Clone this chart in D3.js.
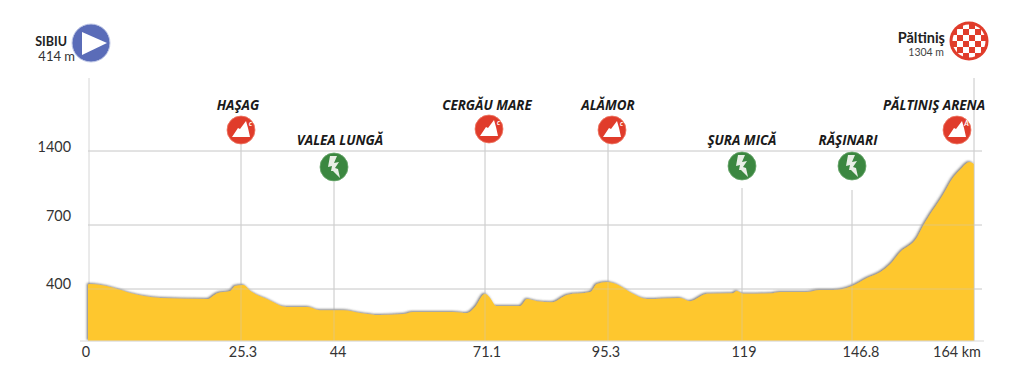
<!DOCTYPE html>
<html>
<head>
<meta charset="utf-8">
<script src="https://cdn.jsdelivr.net/npm/d3@7"></script>
<style>
  html, body { margin: 0; padding: 0; background: #fff; overflow: hidden; }
  text { font-family: Lato, sans-serif; }
  .place { font-family: "Open Sans", sans-serif; font-weight: 700; font-style: italic; font-size: 13.4px; fill: #1a1a1a; text-anchor: middle; }
  .tick { font-size: 14.4px; fill: #333; }
</style>
</head>
<body>
<svg id="chart"></svg>
<script>
const width = 1024;
const height = 390;

// profile
const profileKm = [0, 0.2, 2.1, 4.3, 7.1, 9.2, 12, 19.7, 21.4, 23.5, 24.3, 25.7, 27.5, 30.5, 34.5, 38.7, 41.1, 45.6, 48.7, 52.2, 56.4, 58.2, 65.4, 67.9, 69.3, 71.1, 72.1, 73.3, 78, 79.4, 81.3, 84.3, 87.2, 91.8, 93.1, 95.1, 97.1, 99.7, 102.2, 108, 109.8, 112.8, 117.4, 118.1, 119.3, 126.8, 128.6, 135.4, 138.7, 142, 146.8, 148.9, 150.8, 152.2, 153.6, 156, 156.8, 159.6, 161, 162, 163.4, 164];
const profileEle = [420, 423, 419, 405, 388, 380, 374, 371, 388, 394, 414, 419, 391, 371, 348, 348, 339, 339, 331, 325, 328, 334, 334, 331, 348, 386, 374, 351, 351, 371, 365, 362, 383, 391, 423, 433, 419, 386, 371, 374, 365, 386, 388, 394, 386, 388, 391, 391, 397, 397, 414, 452, 480, 517, 573, 644, 695, 984, 1145, 1220, 1296, 1277];

const kmTicks = [0, 25.3, 44, 71.1, 95.3, 119, 146.8, 164];
const kmLabels = ["0", "25.3", "44", "71.1", "95.3", "119", "146.8", "164 km"];
const eleTicks = [400, 700, 1400];

const placeNames = ["HAŞAG", "VALEA LUNGĂ", "CERGĂU MARE", "ALĂMOR", "ŞURA MICĂ", "RĂŞINARI", "PĂLTINIŞ ARENA"];
const placeKm = [25.3, 44, 71.1, 95.3, 119, 146.8, 164];
const placeType = ["C", "sprint", "C", "C", "sprint", "sprint", "A"];

// the source chart's axes are not linear, so both scales are piecewise
const x = d3.scaleLinear().domain(kmTicks).range([88, 241, 334, 485, 608, 742, 852, 974]);
const y = d3.scaleLinear().domain([250, 400, 700, 1400]).range([341, 289, 225, 151]);

// layout of the labels and icons, same order as the arrays above
const kmLabelDx = [-2, 2, 4, 2, -2, 2, 9, -17];
const eleLabelDy = [0, -4, 1];
const placeLayout = [
  { tx: 238, ty: 110, ix: 241, iy: 130, lineTop: 144 },
  { tx: 340, ty: 145, ix: 334, iy: 167, lineTop: 182 },
  { tx: 487, ty: 110, ix: 489, iy: 129, lineTop: 143 },
  { tx: 608, ty: 110, ix: 612, iy: 130, lineTop: 144 },
  { tx: 742, ty: 145, ix: 742, iy: 166, lineTop: 188 },
  { tx: 848, ty: 145, ix: 852, iy: 166, lineTop: 190 },
  { tx: 934, ty: 110, ix: 957, iy: 130, lineTop: 78 }
];

const svg = d3.select("#chart").attr("width", width).attr("height", height);
const defs = svg.append("defs");

// grey edge up and to the left of the yellow
const shadow = defs.append("filter").attr("id", "edge").attr("x", "-2%").attr("y", "-5%").attr("width", "104%").attr("height", "110%");
shadow.append("feDropShadow").attr("dx", -1.2).attr("dy", -1).attr("stdDeviation", 0.9).attr("flood-color", "#555").attr("flood-opacity", 0.75);

defs.append("clipPath").attr("id", "flagClip").append("circle").attr("r", 16.5);

const gridColor = "#d6d6d6";

function drawGrid(g, color, opacity) {
  g.selectAll("line.h")
    .data(eleTicks)
    .enter()
    .append("line")
    .attr("class", "h")
    .attr("x1", x(0))
    .attr("x2", 982)
    .attr("y1", (d) => y(d))
    .attr("y2", (d) => y(d))
    .attr("stroke", color)
    .attr("stroke-opacity", opacity);

  g.selectAll("line.v")
    .data(placeKm)
    .enter()
    .append("line")
    .attr("class", "v")
    .attr("x1", (d) => x(d))
    .attr("x2", (d) => x(d))
    .attr("y1", (d, i) => placeLayout[i].lineTop)
    .attr("y2", y(250))
    .attr("stroke", color)
    .attr("stroke-opacity", opacity);
}

const under = svg.append("g");
drawGrid(under, gridColor, 1);
under.append("line").attr("x1", 89).attr("x2", 89).attr("y1", 78).attr("y2", y(250)).attr("stroke", gridColor);

const area = d3
  .area()
  .x((d) => x(d[0]))
  .y0(y(250))
  .y1((d) => y(d[1]))
  .curve(d3.curveMonotoneX);

svg
  .append("path")
  .datum(d3.zip(profileKm, profileEle))
  .attr("d", area)
  .attr("fill", "#fec72e")
  .attr("filter", "url(#edge)");

// grid shows faintly through the fill
drawGrid(svg.append("g"), "#c9c9c9", 0.45);

svg.append("line").attr("x1", 80).attr("x2", 984).attr("y1", y(250)).attr("y2", y(250)).attr("stroke", "#d9d9d9").attr("stroke-width", 1.2);

// axis labels
svg
  .selectAll("text.km")
  .data(kmLabels)
  .enter()
  .append("text")
  .attr("class", "tick km")
  .attr("x", (d, i) => x(kmTicks[i]) + kmLabelDx[i])
  .attr("y", 357)
  .attr("text-anchor", "middle")
  .text((d) => d);

svg
  .selectAll("text.ele")
  .data(eleTicks)
  .enter()
  .append("text")
  .attr("class", "tick ele")
  .attr("x", 71)
  .attr("y", (d, i) => y(d) + eleLabelDy[i])
  .attr("text-anchor", "end")
  .text((d) => d);

// icons
function climbIcon(g, letter) {
  g.append("circle").attr("r", 14).attr("fill", "#e03c2b").attr("stroke", "#ee7a66").attr("stroke-width", 0.8);
  g.append("path")
    .attr("d", "M-9,7 L-3,-2 L-1,-1 L5,-9 L7,-2 L9,7 Z")
    .attr("fill", "#fff");
  g.append("text")
    .attr("x", 9.5)
    .attr("y", -4)
    .attr("text-anchor", "middle")
    .attr("font-size", 7)
    .attr("font-weight", 700)
    .attr("fill", "#fff")
    .text(letter === "C" ? "c" : "A");
}

function sprintIcon(g) {
  g.append("circle").attr("r", 14).attr("fill", "#3b8740").attr("stroke", "#6aa66c").attr("stroke-width", 0.8);
  g.append("path")
    .attr("d", "M-4,-11 L3,-11 L0,-4 L5,-5 L1,1 L4,2 L6,11 L-1,4 L-3,4 L-2,-1 L-6,0 Z")
    .attr("fill", "#e9efe6");
}

const places = svg
  .selectAll("g.place")
  .data(placeNames)
  .enter()
  .append("g")
  .attr("class", "place");

places
  .append("text")
  .attr("class", "place")
  .attr("x", (d, i) => placeLayout[i].tx)
  .attr("y", (d, i) => placeLayout[i].ty)
  .text((d) => d);

places.each(function (d, i) {
  const g = d3.select(this).append("g").attr("transform", `translate(${placeLayout[i].ix},${placeLayout[i].iy})`);
  if (placeType[i] === "sprint") sprintIcon(g);
  else climbIcon(g, placeType[i]);
});

// start
const start = svg.append("g");
start.append("circle").attr("cx", 91).attr("cy", 43).attr("r", 19).attr("fill", "#5a6cb8").attr("stroke", "#c3cbe8").attr("stroke-width", 1);
start.append("path").attr("d", "M82,32 L107,43 L82,55 Z").attr("fill", "#fff");
start.append("text").attr("x", 67).attr("y", 46).attr("text-anchor", "end").attr("font-weight", 700).attr("font-size", 12.5).attr("fill", "#222").text("SIBIU");
start.append("text").attr("x", 75).attr("y", 61).attr("text-anchor", "end").attr("font-size", 13).attr("fill", "#333").text("414 m");

// finish
const finish = svg.append("g");
finish.append("text").attr("x", 945).attr("y", 43).attr("text-anchor", "end").attr("font-family", "Liberation Sans").attr("font-weight", 700).attr("font-size", 14.5).attr("fill", "#222").text("Păltiniş");
finish.append("text").attr("x", 944).attr("y", 56).attr("text-anchor", "end").attr("font-family", "Liberation Sans").attr("font-size", 10.5).attr("fill", "#444").text("1304 m");

const flag = finish.append("g").attr("transform", "translate(969,41)");
flag.append("circle").attr("r", 19.5).attr("fill", "#e03c2b");
const checks = flag.append("g").attr("clip-path", "url(#flagClip)");
checks.append("circle").attr("r", 16.5).attr("fill", "#e03c2b");
d3.range(-3, 3).forEach(function (col) {
  d3.range(-3, 3).forEach(function (row) {
    if ((row + col + 6) % 2 === 0) {
      checks.append("rect").attr("x", col * 6).attr("y", row * 6).attr("width", 6).attr("height", 6).attr("fill", "#fff");
    }
  });
});
</script>
</body>
</html>
